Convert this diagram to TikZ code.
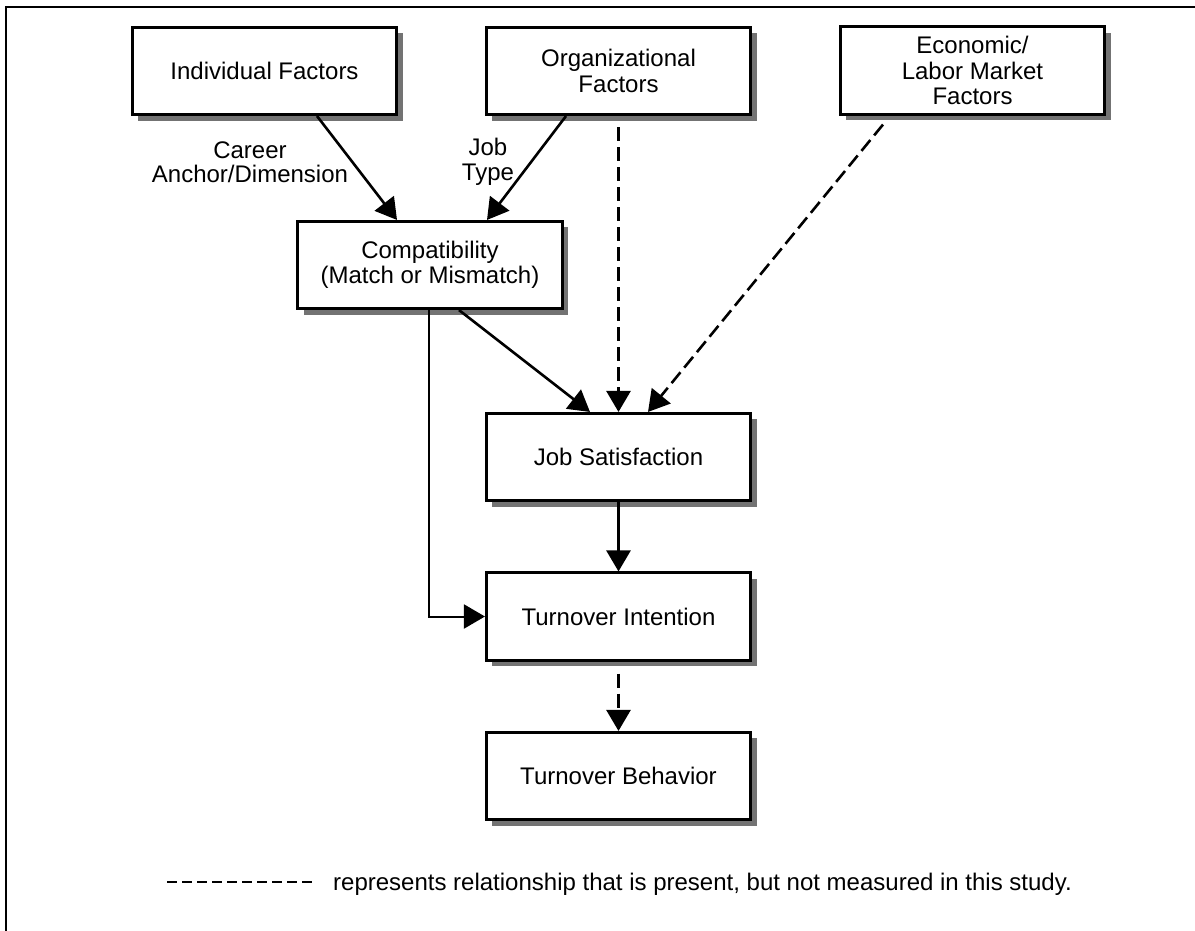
\documentclass[tikz,border=0pt]{standalone}
\usepackage{fontspec}
\setmainfont{Liberation Sans}
\usetikzlibrary{arrows.meta,shadows}
\begin{document}
\begin{tikzpicture}[x=1pt,y=-1pt,
  box/.style={draw, line width=2.6pt, fill=white, minimum width=264.5pt, minimum height=87.5pt,
    inner sep=0pt, align=center, font=\fontsize{24}{25.5}\selectfont,
    drop shadow={shadow xshift=6pt, shadow yshift=-6pt, fill=black!55, opacity=1}},
  lbl/.style={align=center, font=\fontsize{24}{24.5}\selectfont, inner sep=0pt},
  conn/.style={line width=2.6pt, -{Triangle[length=21pt,width=24pt]}},
  dconn/.style={conn, dash pattern=on 14pt off 6pt},
  frameline/.style={line width=2pt},
]
\useasboundingbox (0,0) rectangle (1195,930);
\clip (0,0) rectangle (1195,930);
\fill[white] (0,0) rectangle (1195,930);
\draw[frameline] (6,940) -- (6,7) -- (1210,7);

\node[box] (ind)  at (264.5,71)  {Individual Factors};
\node[box] (org)  at (618.5,71)  {Organizational\\Factors};
\node[box] (econ) at (972.5,70.5) {Economic/\\Labor Market\\Factors};
\node[box] (comp) at (430,265)   {Compatibility\\(Match or Mismatch)};
\node[box] (js)   at (618.5,457) {Job Satisfaction};
\node[box] (ti)   at (618.5,616.5) {Turnover Intention};
\node[box] (tb)   at (618.5,776) {Turnover Behavior};

\node[lbl] (lcareer) at (250,162) {Career\\Anchor/Dimension};
\node[lbl] (ljob)    at (488,162) {Job\\Type};

\draw[conn] ([xshift=52.5pt]ind.south) -- ([xshift=-33pt]comp.north);
\draw[conn] ([xshift=-52.5pt]org.south) -- ([xshift=57pt]comp.north);
\draw[conn] ([xshift=29pt]comp.south) -- ([xshift=-28.5pt]js.north);
\draw[dconn] ([yshift=-11pt]org.south) -- (js.north);
\draw[dconn] ([xshift=-89.5pt,yshift=-9pt]econ.south) -- ([xshift=29.5pt]js.north);
\draw[conn] (js.south) -- (ti.north);
\draw[conn, line width=2pt] ([xshift=-1pt]comp.south) |- (ti.west);
\draw[dconn] ([yshift=-12pt]ti.south) -- (tb.north);

\coordinate (lega) at (167,882);
\coordinate (legb) at (312,882);
\draw[line width=2pt, dash pattern=on 10pt off 5pt] (lega) -- (legb);
\node[anchor=base west, inner sep=0pt, font=\fontsize{24}{25}\selectfont] (legtext) at (333,890)
  {represents relationship that is present, but not measured in this study.};
\end{tikzpicture}
\end{document}
